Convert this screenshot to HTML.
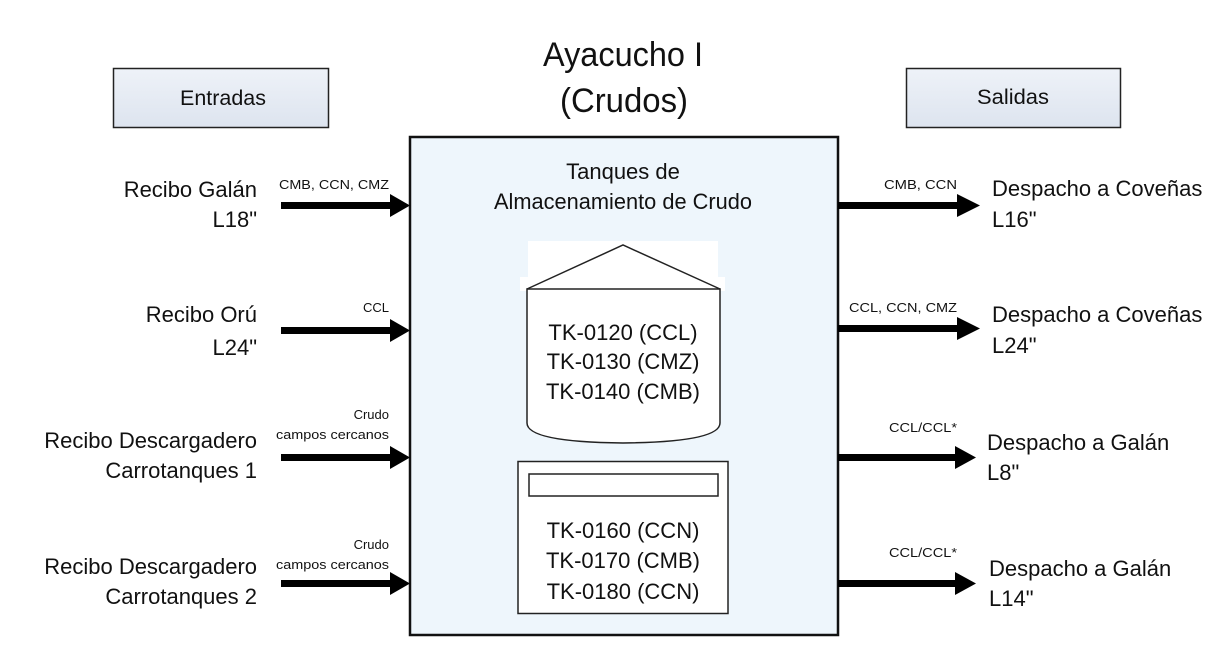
<!DOCTYPE html>
<html><head><meta charset="utf-8"><style>
html,body{margin:0;padding:0;background:#fff}
svg{display:block}
text{font-family:"Liberation Sans",sans-serif;fill:#111}
</style></head><body>
<svg width="1229" height="664" viewBox="0 0 1229 664" xmlns="http://www.w3.org/2000/svg">
<defs>
<linearGradient id="g" x1="0" y1="0" x2="0" y2="1"><stop offset="0" stop-color="#eef2f8"/><stop offset="1" stop-color="#dde4ef"/></linearGradient>
</defs>
<text x="623" y="66" font-size="34" text-anchor="middle" textLength="160" lengthAdjust="spacingAndGlyphs">Ayacucho I</text>
<text x="624" y="112" font-size="34" text-anchor="middle" textLength="128" lengthAdjust="spacingAndGlyphs">(Crudos)</text>
<rect x="113.5" y="68.5" width="215" height="59" fill="url(#g)" stroke="#222" stroke-width="1.5"/>
<text x="223" y="105" font-size="21" text-anchor="middle" textLength="86" lengthAdjust="spacingAndGlyphs">Entradas</text>
<rect x="906.5" y="68.5" width="214" height="59" fill="url(#g)" stroke="#222" stroke-width="1.5"/>
<text x="1013" y="104" font-size="21" text-anchor="middle" textLength="72" lengthAdjust="spacingAndGlyphs">Salidas</text>
<rect x="410" y="137" width="428" height="498" fill="#eef6fc" stroke="#111" stroke-width="2.5"/>
<text x="623" y="179" font-size="22" text-anchor="middle">Tanques de</text>
<text x="623" y="209" font-size="22" text-anchor="middle" textLength="258" lengthAdjust="spacingAndGlyphs">Almacenamiento de Crudo</text>
<rect x="528" y="241" width="190" height="36" fill="#fff"/>
<rect x="520" y="277" width="205" height="14" fill="#fff"/>
<path d="M527 289 L623 245 L720 289" fill="#fff" stroke="#222" stroke-width="1.5"/>
<path d="M527 289 L720 289 L720 423 Q720 442 623 443 Q527 442 527 423 Z" fill="#fff" stroke="#222" stroke-width="1.5"/>
<text x="623" y="340" font-size="22" text-anchor="middle">TK-0120 (CCL)</text>
<text x="623" y="369" font-size="22" text-anchor="middle">TK-0130 (CMZ)</text>
<text x="623" y="399" font-size="22" text-anchor="middle">TK-0140 (CMB)</text>
<rect x="518" y="461.5" width="210" height="152" fill="#fff" stroke="#222" stroke-width="1.5"/>
<rect x="529" y="474" width="189" height="22" fill="#fff" stroke="#222" stroke-width="1.5"/>
<text x="623" y="538" font-size="22" text-anchor="middle">TK-0160 (CCN)</text>
<text x="623" y="568" font-size="22" text-anchor="middle">TK-0170 (CMB)</text>
<text x="623" y="599" font-size="22" text-anchor="middle">TK-0180 (CCN)</text>
<g fill="#000">
<rect x="281" y="202" width="112" height="7"/><polygon points="390,194 410,205.5 390,217"/>
<rect x="281" y="327" width="112" height="7"/><polygon points="390,319 410,330.5 390,342"/>
<rect x="281" y="454" width="112" height="7"/><polygon points="390,446 410,457.5 390,469"/>
<rect x="281" y="580" width="112" height="7"/><polygon points="390,572 410,583.5 390,595"/>
<rect x="838" y="202" width="122" height="7"/><polygon points="957,194 980,205.5 957,217"/>
<rect x="838" y="325" width="122" height="7"/><polygon points="957,317 980,328.5 957,340"/>
<rect x="838" y="454" width="122" height="7"/><polygon points="955,446 976,457.5 955,469"/>
<rect x="838" y="580" width="122" height="7"/><polygon points="955,572 976,583.5 955,595"/>
</g>
<g font-size="22" text-anchor="end">
<text x="257" y="197">Recibo Galán</text><text x="257" y="227">L18"</text>
<text x="257" y="322">Recibo Orú</text><text x="257" y="355">L24"</text>
<text x="257" y="448">Recibo Descargadero</text><text x="257" y="478">Carrotanques 1</text>
<text x="257" y="574">Recibo Descargadero</text><text x="257" y="604">Carrotanques 2</text>
</g>
<g font-size="13" text-anchor="end">
<text x="389" y="189" textLength="110" lengthAdjust="spacingAndGlyphs">CMB, CCN, CMZ</text>
<text x="389" y="312">CCL</text>
<text x="389" y="419">Crudo</text>
<text x="389" y="439" textLength="113" lengthAdjust="spacingAndGlyphs">campos cercanos</text>
<text x="389" y="549">Crudo</text>
<text x="389" y="569" textLength="113" lengthAdjust="spacingAndGlyphs">campos cercanos</text>
<text x="957" y="189" textLength="73" lengthAdjust="spacingAndGlyphs">CMB, CCN</text>
<text x="957" y="312" textLength="108" lengthAdjust="spacingAndGlyphs">CCL, CCN, CMZ</text>
<text x="957" y="432" textLength="68" lengthAdjust="spacingAndGlyphs">CCL/CCL*</text>
<text x="957" y="557" textLength="68" lengthAdjust="spacingAndGlyphs">CCL/CCL*</text>
</g>
<g font-size="22">
<text x="992" y="196">Despacho a Coveñas</text><text x="992" y="227">L16"</text>
<text x="992" y="322">Despacho a Coveñas</text><text x="992" y="353">L24"</text>
<text x="987" y="450">Despacho a Galán</text><text x="987" y="480">L8"</text>
<text x="989" y="576">Despacho a Galán</text><text x="989" y="606">L14"</text>
</g>
</svg>
</body></html>
